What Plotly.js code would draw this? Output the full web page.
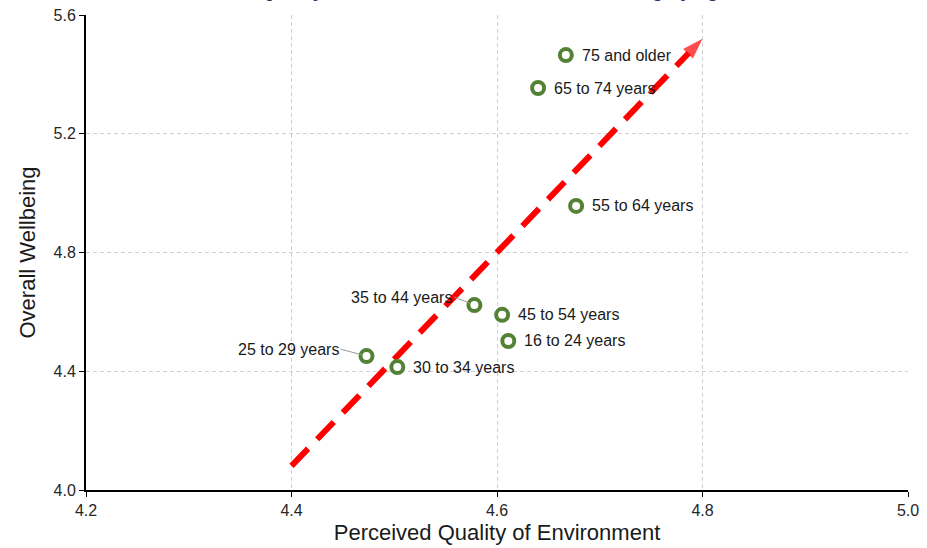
<!DOCTYPE html>
<html>
<head>
<meta charset="utf-8">
<script src="https://cdn.plot.ly/plotly-3.0.1.min.js"></script>
<style>html,body{margin:0;padding:0;background:#fff;}#chart{width:927px;height:548px;}</style>
</head>
<body>
<div id="chart"></div>
<script>
var ageGroups = ["16 to 24 years","25 to 29 years","30 to 34 years","35 to 44 years","45 to 54 years","55 to 64 years","65 to 74 years","75 and older"];
var environment = [4.611, 4.473, 4.503, 4.578, 4.605, 4.677, 4.640, 4.667];
var wellbeing = [4.502, 4.451, 4.414, 4.623, 4.590, 4.957, 5.354, 5.465];
var labelSide = ["right","left","right","left","right","right","right","right"];
var trendX = [4.4, 4.8];
var trendY = [4.081, 5.52];
var titleText = "Chart 3, Quality of environment and overall wellbeing by age";

var green = "#548235";
var FONT = "Arial, Liberation Sans, sans-serif";
var leaderOffsets = {"25 to 29 years": [-26, -7], "35 to 44 years": [-20, -8]};

var traces = [
  {
    x: trendX, y: trendY, mode: "lines+markers", type: "scatter",
    line: {color: "#ff0000", width: 6, dash: "24px,13px"},
    marker: {symbol: ["circle","arrow"], size: [0, 22], color: "#ff0000", angleref: "previous", line:{width:0}},
    hoverinfo: "skip", showlegend: false, cliponaxis: false
  },
  {
    x: environment, y: wellbeing, mode: "markers", type: "scatter",
    marker: {symbol: "circle", size: 12, color: "#ffffff", line: {color: green, width: 4}},
    showlegend: false, cliponaxis: false
  }
];

var annotations = ageGroups.map(function(t, i){
  if (labelSide[i] === "right") {
    return {
      x: environment[i], y: wellbeing[i], xref: "x", yref: "y",
      text: t, showarrow: false, xanchor: "left", yanchor: "middle", xshift: 14, yshift: 0,
      font: {family: FONT, size: 16, color: "#1a1a1a"}
    };
  }
  var off = leaderOffsets[t];
  return {
    x: environment[i], y: wellbeing[i], xref: "x", yref: "y",
    text: t, showarrow: true, arrowhead: 0, arrowwidth: 1, arrowcolor: "#999999",
    ax: off[0], ay: off[1], xanchor: "right", yanchor: "middle", standoff: 5,
    font: {family: FONT, size: 16, color: "#1a1a1a"}
  };
});
annotations.push({
  xref: "paper", yref: "paper", x: 0.45, y: 1, yshift: 12, xanchor: "center", yanchor: "bottom",
  text: "<b>" + titleText + "</b>", showarrow: false,
  font: {family: FONT, size: 19, color: "#1f3864"}
});

var axisCommon = {
  showline: true, linecolor: "#000000", linewidth: 2, ticks: "outside", ticklen: 5, tickcolor: "#000000",
  showgrid: true, gridcolor: "#d0d0d0", griddash: "4px,3px", gridwidth: 1, zeroline: false,
  tickfont: {family: FONT, size: 16, color: "#262626"},
  tickformat: ".1f"
};

var layout = {
  width: 927, height: 548,
  margin: {l: 86, r: 19, t: 15, b: 58},
  paper_bgcolor: "#ffffff", plot_bgcolor: "#ffffff",
  xaxis: Object.assign({}, axisCommon, {
    range: [4.2, 5.0], dtick: 0.2, tick0: 4.2,
    title: {text: "Perceived Quality of Environment", font: {family: FONT, size: 22, color: "#1a1a1a"}, standoff: 6}
  }),
  yaxis: Object.assign({}, axisCommon, {
    range: [4.0, 5.6], dtick: 0.4, tick0: 4.0,
    title: {text: "Overall Wellbeing", font: {family: FONT, size: 22, color: "#1a1a1a"}, standoff: 12}
  }),
  annotations: annotations,
  showlegend: false
};

Plotly.newPlot("chart", traces, layout, {displayModeBar: false, staticPlot: true});
</script>
</body>
</html>
